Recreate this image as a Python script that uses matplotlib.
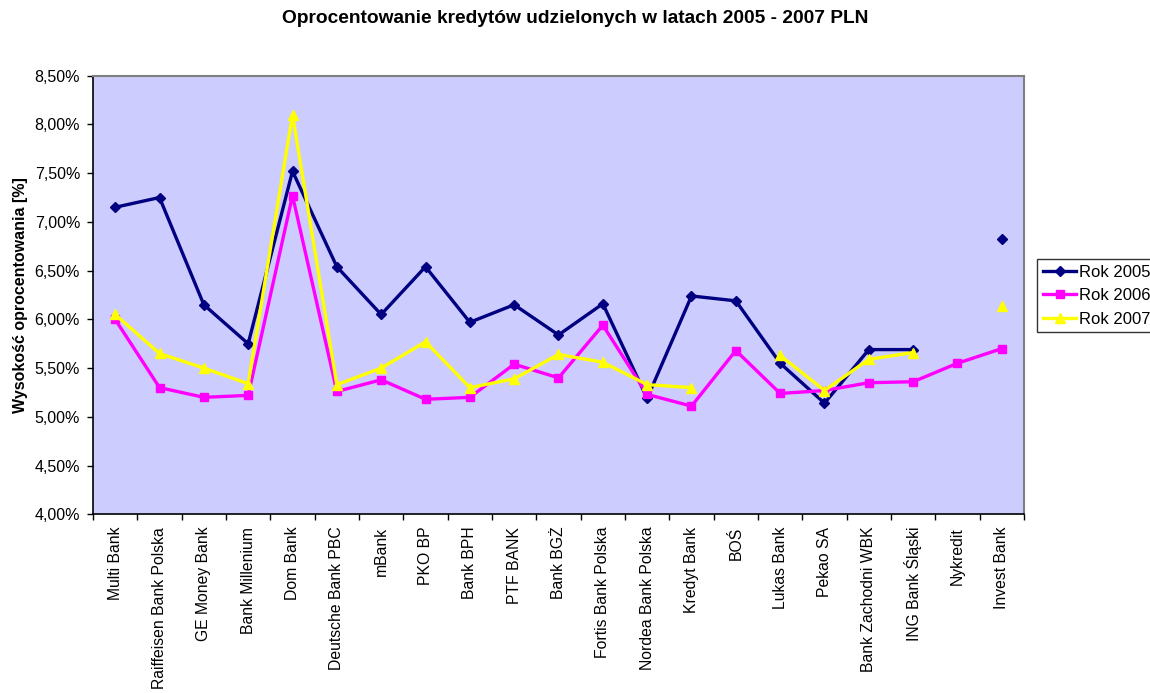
import numpy as np
import matplotlib
matplotlib.use("Agg")
import matplotlib.pyplot as plt
from matplotlib.ticker import FuncFormatter, MultipleLocator, FixedLocator

plt.rcParams['font.family'] = ['Liberation Sans', 'DejaVu Sans']

banks = [
    "Multi Bank", "Raiffeisen Bank Polska", "GE Money Bank", "Bank Millenium",
    "Dom Bank", "Deutsche Bank PBC", "mBank", "PKO BP", "Bank BPH", "PTF BANK",
    "Bank BGŻ", "Fortis Bank Polska", "Nordea Bank Polska", "Kredyt Bank", "BOŚ",
    "Lukas Bank", "Pekao SA", "Bank Zachodni WBK", "ING Bank Śląski", "Nykredit",
    "Invest Bank",
]

nan = np.nan
rok_2005 = [7.15, 7.25, 6.15, 5.75, 7.52, 6.54, 6.05, 6.54, 5.97, 6.15,
            5.84, 6.16, 5.19, 6.24, 6.19, 5.55, 5.14, 5.69, 5.69, nan, 6.82]
rok_2006 = [6.00, 5.30, 5.20, 5.22, 7.27, 5.26, 5.38, 5.18, 5.20, 5.54,
            5.40, 5.94, 5.23, 5.11, 5.68, 5.24, 5.27, 5.35, 5.36, 5.55, 5.70]
rok_2007 = [6.05, 5.65, 5.50, 5.34, 8.10, 5.33, 5.50, 5.77, 5.30, 5.39,
            5.64, 5.56, 5.33, 5.30, nan, 5.63, 5.27, 5.59, 5.66, nan, 6.14]

series = [
    ("Rok 2005", rok_2005, "#000080", "D", 5),
    ("Rok 2006", rok_2006, "#FF00FF", "s", 6),
    ("Rok 2007", rok_2007, "#FFFF00", "^", 7),
]

fig = plt.figure(figsize=(11.5, 6.93), dpi=100)
ax = fig.add_axes([93 / 1150, 1 - 514.3 / 693, (1024 - 93) / 1150, (514.3 - 75.7) / 693])
ax.set_facecolor("#CCCCFF")

x = np.arange(len(banks))
for label, vals, color, marker, ms in series:
    ax.plot(x, vals, color=color, lw=2.4, marker=marker, markersize=ms,
            markerfacecolor=color, markeredgecolor=color, label=label)

ax.set_xlim(-0.5, len(banks) - 0.5)
ax.set_ylim(4.0, 8.5)
ax.yaxis.set_major_locator(MultipleLocator(0.5))
ax.yaxis.set_major_formatter(FuncFormatter(lambda v, p: f"{v:.2f}%".replace(".", ",")))

ax.xaxis.set_major_locator(FixedLocator(x))
ax.set_xticklabels(banks, rotation=90, fontsize=11.3)
ax.xaxis.set_minor_locator(FixedLocator(np.arange(-0.5, len(banks), 1.0)))
ax.tick_params(axis="x", which="major", length=0, pad=9)
ax.tick_params(axis="x", which="minor", length=4.3, width=1, direction="out")
ax.tick_params(axis="y", which="major", length=4.3, width=1, direction="out",
               labelsize=11.5, pad=5)

for side in ("top", "right"):
    ax.spines[side].set_color("#808080")
    ax.spines[side].set_linewidth(1.5)
for side in ("left", "bottom"):
    ax.spines[side].set_color("black")
    ax.spines[side].set_linewidth(1.2)

ax.set_ylabel("Wysokość oprocentowania [%]", fontsize=11.5, fontweight="bold", labelpad=5)

fig.suptitle("Oprocentowanie kredytów udzielonych w latach 2005 - 2007 PLN",
             x=0.5, y=1 - 10 / 693, va="top", fontsize=13.8, fontweight="bold")

leg = ax.legend(loc="upper left", bbox_to_anchor=(1037 / 1150, 1 - 259 / 693),
                bbox_transform=fig.transFigure, frameon=True, fancybox=False,
                fontsize=12, handlelength=2.0, borderpad=0.35, labelspacing=0.5,
                handletextpad=0.15, borderaxespad=0)
leg.get_frame().set_edgecolor("black")
leg.get_frame().set_linewidth(1.0)

fig.savefig("out.png", dpi=100, facecolor="white")
